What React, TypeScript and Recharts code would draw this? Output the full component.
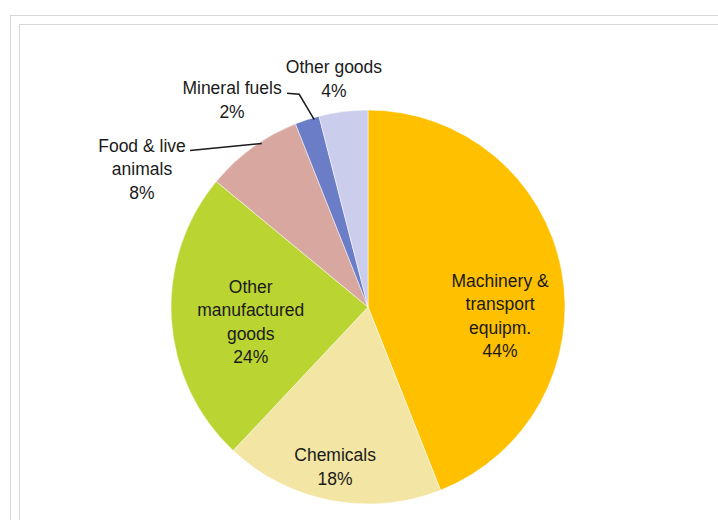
import React from 'react';
import { PieChart, Pie, Cell } from 'recharts';

const categories = [
  'Machinery & transport equipm.',
  'Chemicals',
  'Other manufactured goods',
  'Food & live animals',
  'Mineral fuels',
  'Other goods',
];
const shares = [44, 18, 24, 8, 2, 4];
const labelLines = [
  ['Machinery &', 'transport', 'equipm.'],
  ['Chemicals'],
  ['Other', 'manufactured', 'goods'],
  ['Food & live', 'animals'],
  ['Mineral fuels'],
  ['Other goods'],
];

const COLORS = ['#FFC000', '#F3E5A3', '#BAD431', '#D8A8A0', '#6C7DC8', '#CACDEB'];

// where each label sits, relative to its slice (radius factor, angle shift in degrees)
const LABEL_POS = [
  { r: 0.672, shift: -14.7 },
  { r: 0.83, shift: -0.8 },
  { r: 0.6, shift: 3.7 },
  { r: 1.344, shift: 22.6, leader: 'straight', from: [48, 5] },
  { r: 1.257, shift: 15.3, leader: 'elbow', from: [55, 5] },
  { r: 1.17, shift: 1.3 },
];

const FONT = '"Liberation Sans", Arial, sans-serif';
const FONT_SIZE = 17.5;
const LINE_H = 23.5;
const RAD = Math.PI / 180;

const data = categories.map((name, i) => ({ name, value: shares[i] }));

const polar = (cx: number, cy: number, r: number, deg: number) => ({
  x: cx + r * Math.cos(deg * RAD),
  y: cy - r * Math.sin(deg * RAD),
});

const renderLabel = (props: any) => {
  const { cx, cy, midAngle, outerRadius, index } = props;
  const pos = LABEL_POS[index];
  const c = polar(cx, cy, outerRadius * pos.r, midAngle + pos.shift);
  const lines = [...labelLines[index], `${shares[index]}%`];
  const y0 = c.y - ((lines.length - 1) * LINE_H) / 2;

  let leader = null;
  if (pos.leader) {
    const sx = c.x + pos.from[0];
    const sy = y0 + pos.from[1];
    let pts: { x: number; y: number }[] = [];
    if (pos.leader === 'straight') {
      pts = [{ x: sx, y: sy }, polar(cx, cy, outerRadius * 0.99, midAngle - 3)];
    } else {
      const mid = polar(cx, cy, outerRadius * 1.13, midAngle);
      pts = [{ x: sx, y: sy }, { x: mid.x, y: sy + 1 }, polar(cx, cy, outerRadius * 0.99, midAngle - 2)];
    }
    leader = (
      <polyline
        points={pts.map((p) => `${p.x},${p.y}`).join(' ')}
        fill="none"
        stroke="#1a1a1a"
        strokeWidth={1.5}
      />
    );
  }

  return (
    <g key={`lbl-${index}`}>
      {leader}
      <text
        x={c.x}
        y={y0}
        textAnchor="middle"
        fontFamily={FONT}
        fontSize={FONT_SIZE}
        fill="#1a1a1a"
      >
        {lines.map((t, i) => (
          <tspan key={i} x={c.x} y={y0 + i * LINE_H} dominantBaseline="central">
            {t}
          </tspan>
        ))}
      </text>
    </g>
  );
};

export default function App() {
  return (
    <div style={{ position: 'absolute', left: 0, top: 0, width: 718, height: 520, background: '#fff', overflow: 'hidden' }}>
      <div
        style={{
          position: 'absolute',
          left: 10,
          top: 15,
          width: 720,
          height: 520,
          borderLeft: '1.5px solid #d6d6d6',
          borderTop: '1.5px solid #d6d6d6',
        }}
      />
      <div
        style={{
          position: 'absolute',
          left: 19,
          top: 24,
          width: 720,
          height: 520,
          borderLeft: '1.5px solid #d6d6d6',
          borderTop: '1.5px solid #d6d6d6',
        }}
      />
      <div style={{ position: 'absolute', left: 0, top: 0 }}>
        <PieChart width={718} height={520} margin={{ top: 0, right: 0, bottom: 0, left: 0 }}>
          <Pie
            data={data}
            dataKey="value"
            nameKey="name"
            cx={368}
            cy={307}
            outerRadius={197}
            startAngle={90}
            endAngle={-270}
            stroke="#ffffff"
            strokeWidth={0.5}
            label={renderLabel}
            labelLine={false}
            isAnimationActive={false}
          >
            {data.map((d, i) => (
              <Cell key={d.name} fill={COLORS[i]} />
            ))}
          </Pie>
        </PieChart>
      </div>
    </div>
  );
}
